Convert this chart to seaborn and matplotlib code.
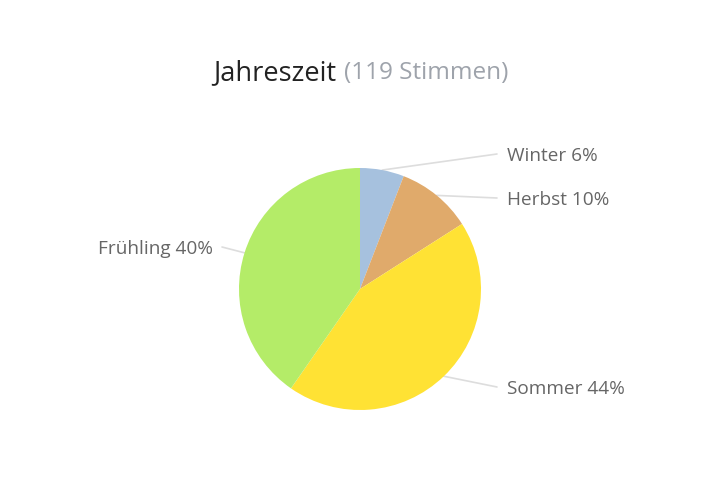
import numpy as np
import matplotlib
matplotlib.use("Agg")
import matplotlib.pyplot as plt
import seaborn as sns

sns.set_theme(style="white")
plt.rcParams['font.family'] = ['Open Sans', 'DejaVu Sans']

# data: votes per season (119 total)
seasons = ['Winter', 'Herbst', 'Sommer', 'Frühling']
votes = [7, 12, 52, 48]
colors = ['#a6c1de', '#e0aa6b', '#ffe234', '#b4ec68']

total = sum(votes)
W, H = 720, 485
fig = plt.figure(figsize=(W / 100, H / 100), dpi=100)
ax = fig.add_axes([0, 0, 1, 1])

cx, cy, r = 360, H - 290, 121
wedges, _ = ax.pie(votes, colors=colors, startangle=90, counterclock=False,
                   center=(cx, cy), radius=r, frame=True,
                   wedgeprops=dict(linewidth=0))
ax.set_xlim(0, W)
ax.set_ylim(0, H)
ax.set_aspect('equal')
ax.axis('off')

# label layout (pixel y from top)
label_y = {'Winter': 155, 'Herbst': 199, 'Sommer': 388, 'Frühling': 248}
for w, name, v in zip(wedges, seasons, votes):
    ang = np.deg2rad((w.theta1 + w.theta2) / 2)
    px, py = cx + r * np.cos(ang), cy + r * np.sin(ang)
    ty = H - label_y[name]
    right = np.cos(ang) > 0
    tx = 507 if right else 213
    lx = tx - 10 if right else tx + 9
    ax.plot([px, lx], [py, ty], color='#dddddd', lw=1.2, zorder=0)
    ax.text(tx, ty - 1, f"{name} {round(100 * v / total)}%", fontsize=13.7,
            color='#666666', ha='left' if right else 'right', va='center')

t1 = fig.text(213 / W, 1 - 73 / H, "Jahreszeit", fontsize=19.5,
              color='#222222', ha='left', va='center')
fig.canvas.draw()
bb = t1.get_window_extent()
fig.text((bb.x1 + 8) / W, 1 - 73 / H, "(119 Stimmen)", fontsize=17.5,
         color='#9ea3ab', ha='left', va='center')

fig.savefig('out.png', dpi=100)
